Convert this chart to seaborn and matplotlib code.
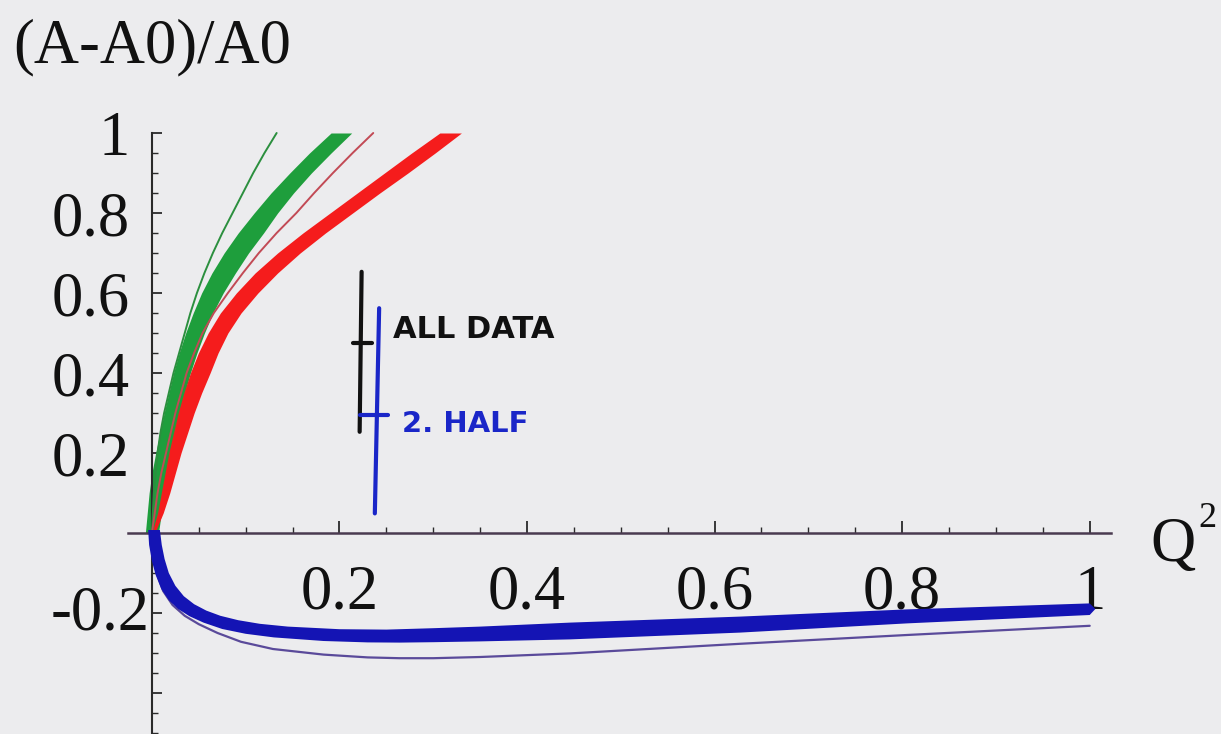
import numpy as np
import matplotlib
matplotlib.use("Agg")
import matplotlib.pyplot as plt
import matplotlib.transforms as mtransforms
from matplotlib.ticker import FixedLocator
import seaborn as sns

# rising bands, edges read at fixed heights of (A-A0)/A0
band_y = [0.0, 0.05, 0.1, 0.15, 0.2, 0.25, 0.3, 0.35, 0.4, 0.45, 0.5,
          0.55, 0.6, 0.65, 0.7, 0.75, 0.8, 0.85, 0.9, 0.95, 1.0]
green_left = [-0.007, -0.005, -0.003, 0.000, 0.004, 0.0085, 0.013, 0.018, 0.023, 0.029, 0.036,
              0.044, 0.053, 0.064, 0.077, 0.092, 0.109, 0.127, 0.147, 0.168, 0.191]
green_right = [0.007, 0.010, 0.013, 0.0165, 0.020, 0.0245, 0.029, 0.035, 0.041, 0.048, 0.056,
               0.065, 0.076, 0.089, 0.103, 0.119, 0.134, 0.151, 0.170, 0.191, 0.213]
red_left = [0.000, 0.006, 0.010, 0.014, 0.018, 0.023, 0.028, 0.034, 0.041, 0.0495, 0.060,
            0.073, 0.090, 0.110, 0.134, 0.161, 0.190, 0.219, 0.248, 0.277, 0.307]
red_right = [0.003, 0.012, 0.019, 0.025, 0.031, 0.038, 0.045, 0.053, 0.062, 0.0705, 0.081,
             0.095, 0.113, 0.134, 0.158, 0.185, 0.214, 0.243, 0.273, 0.302, 0.330]
thin_green_x = [0.000, 0.001, 0.002, 0.004, 0.006, 0.009, 0.013, 0.018, 0.023, 0.029, 0.035,
                0.041, 0.048, 0.056, 0.065, 0.075, 0.086, 0.097, 0.108, 0.120, 0.133]
thin_red_x = [0.000, 0.003, 0.006, 0.010, 0.015, 0.020, 0.025, 0.031, 0.037, 0.045, 0.054,
              0.066, 0.081, 0.097, 0.114, 0.133, 0.154, 0.173, 0.193, 0.214, 0.236]

# falling blue band: upper and lower edge, plus the thin curve under it
blue_top_x = [0.0085, 0.0105, 0.0135, 0.018, 0.025, 0.034, 0.045, 0.058, 0.073, 0.092, 0.115,
              0.145, 0.200, 0.250, 0.300, 0.350, 0.446, 0.627, 0.805, 1.000, 1.006]
blue_top_y = [0.0075, -0.030, -0.065, -0.100, -0.132, -0.158, -0.178, -0.194, -0.207, -0.218, -0.227,
              -0.234, -0.2405, -0.2415, -0.238, -0.234, -0.224, -0.209, -0.191, -0.176, -0.190]
blue_bot_x = [-0.004, -0.003, 0.000, 0.004, 0.010, 0.018, 0.028, 0.040, 0.055, 0.075, 0.100,
              0.130, 0.183, 0.230, 0.264, 0.300, 0.350, 0.446, 0.627, 0.805, 1.000]
blue_bot_y = [0.0075, -0.030, -0.070, -0.105, -0.140, -0.168, -0.190, -0.208, -0.224, -0.240, -0.252,
              -0.261, -0.270, -0.2735, -0.274, -0.273, -0.271, -0.266, -0.249, -0.226, -0.205]
thin_blue_x = [0.000, 0.001, 0.005, 0.012, 0.022, 0.035, 0.050, 0.070, 0.095, 0.129, 0.183,
               0.230, 0.264, 0.300, 0.350, 0.446, 0.627, 0.805, 1.000]
thin_blue_y = [0.000, -0.050, -0.100, -0.145, -0.180, -0.207, -0.228, -0.250, -0.272, -0.290, -0.304,
               -0.311, -0.313, -0.313, -0.310, -0.301, -0.277, -0.255, -0.232]

# hand-drawn error bars
all_x = [0.2236, 0.2215]
all_y = [0.653, 0.253]
all_tick_x = [0.214, 0.235]
all_tick_y = [0.474, 0.474]
half_x = [0.2423, 0.2377]
half_y = [0.562, 0.049]
half_tick_x = [0.222, 0.252]
half_tick_y = [0.295, 0.295]

x_ticks = [0.2, 0.4, 0.6, 0.8, 1.0]
x_labels = ["0.2", "0.4", "0.6", "0.8", "1"]
y_ticks = [-0.4, -0.2, 0.2, 0.4, 0.6, 0.8, 1.0]
y_labels = ["", "-0.2", "0.2", "0.4", "0.6", "0.8", "1"]

bg = "#ececee"
sns.set_theme(style="white", rc={"figure.facecolor": bg, "axes.facecolor": bg})
plt.rcParams["font.family"] = ["Liberation Serif", "DejaVu Serif"]

fig = plt.figure(figsize=(12.21, 7.34), dpi=100)
ax = fig.add_axes([0, 0, 1, 1])
ax.set_xlim(-0.162, 1.140)
ax.set_ylim(-0.5025, 1.3325)

ax.fill_betweenx(band_y, green_left, green_right, color="#1e9e3c", lw=0, zorder=2)
ax.fill_betweenx(band_y, red_left, red_right, color="#f51c1c", lw=0, zorder=2)
sns.lineplot(x=thin_green_x, y=band_y, sort=False, estimator=None, color="#2b8f3e", lw=1.4, ax=ax, zorder=3)
sns.lineplot(x=thin_red_x, y=band_y, sort=False, estimator=None, color="#c24a55", lw=1.4, ax=ax, zorder=3)
sns.lineplot(x=thin_blue_x, y=thin_blue_y, sort=False, estimator=None, color="#5a4a9a", lw=1.6, ax=ax, zorder=3)
ax.fill(np.r_[blue_top_x, blue_bot_x[::-1]], np.r_[blue_top_y, blue_bot_y[::-1]],
        color="#1414b4", lw=0, zorder=4)

# handwriting
ax.plot(all_x, all_y, color="#111111", lw=3, solid_capstyle="round", zorder=5)
ax.plot(all_tick_x, all_tick_y, color="#111111", lw=3, solid_capstyle="round", zorder=5)
ax.plot(half_x, half_y, color="#1a26c8", lw=3, solid_capstyle="round", zorder=6)
ax.plot(half_tick_x, half_tick_y, color="#1a26c8", lw=3, solid_capstyle="round", zorder=6)
ax.text(0.257, 0.4875, "ALL DATA", family="DejaVu Sans", fontweight="bold", fontsize=22,
        color="#111111", va="baseline", ha="left", zorder=6)
ax.text(0.2665, 0.2525, "2. HALF", family="DejaVu Sans", fontweight="bold", fontsize=21,
        color="#1a26c8", va="baseline", ha="left", zorder=6)

# axes through the origin, Mathematica style
for side in ["top", "right"]:
    ax.spines[side].set_visible(False)
ax.spines["left"].set_position(("data", 0))
ax.spines["bottom"].set_position(("data", 0))
ax.spines["left"].set_bounds(-0.6, 1.0)
ax.spines["bottom"].set_bounds(-0.026, 1.023)
ax.spines["left"].set_color("#2a2a2a")
ax.spines["bottom"].set_color("#4a3a50")
ax.spines["left"].set_linewidth(1.5)
ax.spines["bottom"].set_linewidth(1.8)
ax.set_axisbelow(True)

ax.xaxis.set_major_locator(FixedLocator(x_ticks))
ax.xaxis.set_minor_locator(FixedLocator(np.arange(0.05, 1.0, 0.05)))
ax.set_xticklabels(x_labels)
ax.yaxis.set_major_locator(FixedLocator(y_ticks))
ax.yaxis.set_minor_locator(FixedLocator(np.arange(-0.5, 1.0, 0.05)))
ax.set_yticklabels(y_labels)
ax.tick_params(which="both", direction="in", bottom=True, left=True, color="#2a2a2a",
               labelsize=45, labelcolor="#111111")
ax.tick_params(axis="x", which="major", length=9, width=1.3, pad=23)
ax.tick_params(axis="y", which="major", length=7, width=1.3, pad=16)
ax.tick_params(which="minor", length=4, width=1.0)

lab = ax.get_yticklabels()[1]
lab.set_transform(lab.get_transform() + mtransforms.ScaledTranslation(0.2, 0.05, fig.dpi_scale_trans))

fig.text(13 / 1221, 1 - 62 / 734, "(A-A0)/A0", fontsize=45, color="#111111", va="baseline", ha="left")
fig.text(1150 / 1221, 1 - 561 / 734, "Q", fontsize=45, color="#111111", va="baseline", ha="left")
fig.text(1198 / 1221, 1 - 527 / 734, "2", fontsize=26, color="#111111", va="baseline", ha="left")

fig.savefig("out.png", dpi=100, facecolor=bg)
